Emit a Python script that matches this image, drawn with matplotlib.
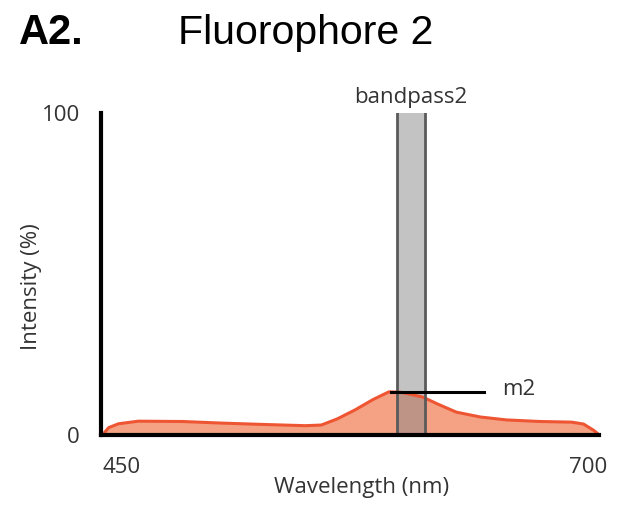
import matplotlib
matplotlib.use("Agg")
from matplotlib import pyplot as plt
import matplotlib.transforms as mtransforms

# emission spectrum
wavelength = [450.5, 453, 458, 468, 490, 510, 530, 552, 560, 568, 577, 586, 594,
              600, 611, 619, 628, 640, 653, 670, 686, 692, 697, 700]
intensity = [0.5, 2.3, 3.5, 4.3, 4.2, 3.7, 3.3, 2.9, 3.1, 5.0, 7.8, 11.0, 13.4,
             13.3, 11.8, 9.5, 7.1, 5.6, 4.7, 4.2, 4.0, 3.4, 1.5, 0.0]

band_lo, band_hi = 598, 612
band_name = "bandpass2"
marker_y = 13.2
marker_x = [595, 642]
marker_name = "m2"

plt.rcParams['font.family'] = ['Open Sans', 'DejaVu Sans']

fig = plt.figure(figsize=(6.18, 5.13), dpi=100)
ax = fig.add_axes([0.163, 0.152, 0.807, 0.628])

ax.fill_between(wavelength, intensity, 0, color='#f4a283', lw=0)
ax.plot(wavelength, intensity, color='#ee5533', lw=2.2, solid_capstyle='round')

ax.axvspan(band_lo, band_hi, facecolor='#888888', alpha=0.5, lw=0)
ax.axvline(band_lo, color='#5a5a5a', lw=2)
ax.axvline(band_hi, color='#5a5a5a', lw=2)
ax.text((band_lo + band_hi) / 2, 101.5, band_name, ha='center', va='bottom',
        fontsize=16, color='#333333')

ax.plot(marker_x, [marker_y, marker_y], color='black', lw=2.2)
ax.text(651, marker_y + 0.8, marker_name, ha='left', va='center',
        fontsize=16, color='#333333')

ax.set_xlim(449, 700)
ax.set_ylim(0, 100)
ax.set_xticks([450, 700])
ax.set_yticks([0, 100])
ax.tick_params(length=0, labelsize=16, pad=16, colors='#333333')
ax.tick_params(axis='y', pad=15)
xl = ax.get_xticklabels()
xl[0].set_ha('left')
xl[1].set_ha('right')
# the right label pokes a bit past the axis end in the original
shift = mtransforms.ScaledTranslation(8 / 100, 0, fig.dpi_scale_trans)
xl[1].set_transform(xl[1].get_transform() + shift)
for s in ['top', 'right']:
    ax.spines[s].set_visible(False)
for s in ['left', 'bottom']:
    ax.spines[s].set_linewidth(3)
ax.set_xlabel('Wavelength (nm)', fontsize=16, color='#333333')
ax.xaxis.set_label_coords(0.523, -0.13)
ax.set_ylabel('Intensity (%)', fontsize=16, color='#333333')
ax.yaxis.set_label_coords(-0.118, 0.46)

fig.text(0.03, 0.914, 'A2.', fontsize=30, fontweight='bold', va='baseline',
         family=['Liberation Sans', 'DejaVu Sans'])
fig.text(0.288, 0.914, 'Fluorophore 2', fontsize=29.5, va='baseline',
         family=['Liberation Sans', 'DejaVu Sans'])

plt.savefig('out.png', dpi=100)
